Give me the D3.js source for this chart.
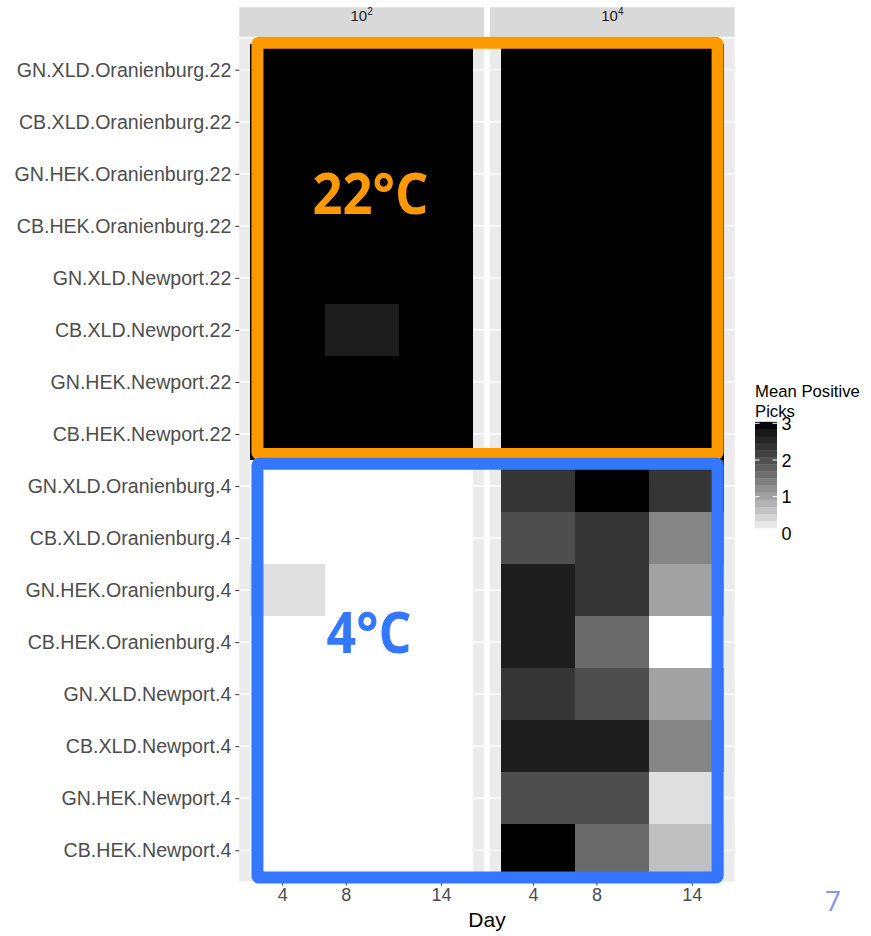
<!DOCTYPE html>
<html>
<head>
<meta charset="utf-8">
<script src="https://cdn.jsdelivr.net/npm/d3@7"></script>
<style>
  body { margin: 0; background: #fff; }
</style>
</head>
<body>
<script>
var rows = ["GN.XLD.Oranienburg.22", "CB.XLD.Oranienburg.22", "GN.HEK.Oranienburg.22", "CB.HEK.Oranienburg.22",
            "GN.XLD.Newport.22", "CB.XLD.Newport.22", "GN.HEK.Newport.22", "CB.HEK.Newport.22",
            "GN.XLD.Oranienburg.4", "CB.XLD.Oranienburg.4", "GN.HEK.Oranienburg.4", "CB.HEK.Oranienburg.4",
            "GN.XLD.Newport.4", "CB.XLD.Newport.4", "GN.HEK.Newport.4", "CB.HEK.Newport.4"];
var days = [4, 8, 14];
var facets = [{base: "10", exp: "2"}, {base: "10", exp: "4"}];

// mean positive picks, one row per label, one column per day
var picks102 = [[3, 3, 3], [3, 3, 3], [3, 3, 3], [3, 3, 3],
                [3, 3, 3], [3, 2.67, 3], [3, 3, 3], [3, 3, 3],
                [0, 0, 0], [0, 0, 0], [0.33, 0, 0], [0, 0, 0],
                [0, 0, 0], [0, 0, 0], [0, 0, 0], [0, 0, 0]];
var picks104 = [[3, 3, 3], [3, 3, 3], [3, 3, 3], [3, 3, 3],
                [3, 3, 3], [3, 3, 3], [3, 3, 3], [3, 3, 3],
                [2.33, 3, 2.33], [2, 2.33, 1.33], [2.67, 2.33, 1], [2.67, 1.67, 0],
                [2.33, 2, 1], [2.67, 2.67, 1.33], [2, 2, 0.33], [3, 1.67, 0.67]];
var legendBreaks = [0, 1, 2, 3];

var width = 871, height = 936;
var panelTop = 38.5, panelBottom = 881.5, panelW = 244.7;
var panelX = [239.3, 490];

var svg = d3.select("body").append("svg")
    .attr("width", width)
    .attr("height", height)
    .style("font-family", "'Liberation Sans', Arial, sans-serif");

// raster geometry like geom_raster: resolution 4, columns spread over the extent
var res = 4;
var xmin = d3.min(days) - res / 2,
    xmax = d3.max(days) + res / 2;
var ncol = Math.floor((d3.max(days) - d3.min(days)) / res) + 1;
var cellW = (xmax - xmin) / ncol;
var pad = (xmax - xmin) * 0.05;

var x = d3.scaleLinear().domain([xmin - pad, xmax + pad]).range([0, panelW]);
var y = d3.scalePoint().domain(rows).range([panelTop, panelBottom]).padding(0.6);
var step = y.step();
var fill = d3.scaleLinear().domain([0, 3]).range(["white", "black"]).interpolate(d3.interpolateLab);

var panels = [picks102, picks104];

panels.forEach(function(vals, p) {
  var g = svg.append("g").attr("transform", "translate(" + panelX[p] + ",0)");

  // strip
  g.append("rect")
    .attr("x", 0).attr("y", 7.3)
    .attr("width", panelW).attr("height", 29.4)
    .attr("fill", "#d9d9d9");
  var st = g.append("text")
    .attr("x", panelW / 2).attr("y", 21)
    .attr("text-anchor", "middle")
    .attr("font-size", 15)
    .attr("fill", "#1a1a1a");
  st.append("tspan").text(facets[p].base);
  st.append("tspan").attr("font-size", 10).attr("dy", -6.5).text(facets[p].exp);

  // panel background + grid
  g.append("rect")
    .attr("x", 0).attr("y", panelTop)
    .attr("width", panelW).attr("height", panelBottom - panelTop)
    .attr("fill", "#ebebeb");
  g.selectAll(".hgrid").data(rows).enter().append("line")
    .attr("x1", 0).attr("x2", panelW)
    .attr("y1", function(d) { return y(d); })
    .attr("y2", function(d) { return y(d); })
    .attr("stroke", "#fff").attr("stroke-width", 1.3);

  // tiles
  var cells = [];
  vals.forEach(function(r, i) {
    r.forEach(function(v, j) {
      var col = Math.floor((days[j] - d3.min(days)) / res);
      cells.push({row: rows[i], x0: xmin + col * cellW, value: v});
    });
  });
  g.selectAll(".tile").data(cells).enter().append("rect")
    .attr("x", function(d) { return x(d.x0); })
    .attr("width", function(d) { return x(d.x0 + cellW) - x(d.x0); })
    .attr("y", function(d) { return y(d.row) - step / 2; })
    .attr("height", step)
    .attr("fill", function(d) { return fill(d.value); })
    .attr("shape-rendering", "crispEdges");

  // x axis
  var ax = g.append("g")
    .attr("transform", "translate(0," + panelBottom + ")")
    .call(d3.axisBottom(x).tickValues(days).tickSize(4).tickPadding(3));
  ax.select(".domain").remove();
  ax.selectAll("line").attr("stroke", "#333");
  ax.selectAll("text").attr("font-size", 18).attr("fill", "#4d4d4d")
    .attr("font-family", "'Liberation Sans', Arial, sans-serif");
});

// y axis
var ay = svg.append("g")
  .attr("transform", "translate(" + panelX[0] + ",0)")
  .call(d3.axisLeft(y).tickSize(4).tickPadding(4));
ay.select(".domain").remove();
ay.selectAll("line").attr("stroke", "#333");
ay.selectAll("text").attr("font-size", 19.6).attr("fill", "#4d4d4d")
  .attr("font-family", "'Liberation Sans', Arial, sans-serif");

// x title
svg.append("text")
  .attr("x", (panelX[0] + panelX[1] + panelW) / 2)
  .attr("y", 927)
  .attr("text-anchor", "middle")
  .attr("font-size", 21)
  .text("Day");

// legend
var ly = d3.scaleLinear().domain([0, 3]).range([533.4, 423.3]);
var lg = svg.append("g");
lg.append("text").attr("x", 755).attr("y", 397).attr("font-size", 16.7).text("Mean Positive");
lg.append("text").attr("x", 755).attr("y", 416.5).attr("font-size", 16.7).text("Picks");
var nbin = 15, lo = 0.15, hi = 3.04;
var bins = d3.range(nbin).map(function(i) { return lo + (hi - lo) * i / nbin; });
var bw = (hi - lo) / nbin;
lg.selectAll(".bin").data(bins).enter().append("rect")
  .attr("x", 755).attr("width", 22)
  .attr("y", function(d) { return ly(d + bw); })
  .attr("height", function(d) { return ly(d) - ly(d + bw) + 0.3; })
  .attr("fill", function(d) { return fill(Math.min(3, d + bw / 2)); });
legendBreaks.filter(function(d) { return d >= lo; }).forEach(function(d) {
  lg.append("line").attr("x1", 755).attr("x2", 759.5).attr("y1", ly(d)).attr("y2", ly(d))
    .attr("stroke", "#fff").attr("stroke-width", 1);
  lg.append("line").attr("x1", 772.5).attr("x2", 777).attr("y1", ly(d)).attr("y2", ly(d))
    .attr("stroke", "#fff").attr("stroke-width", 1);
});
lg.selectAll(".lab").data(legendBreaks).enter().append("text")
  .attr("x", 781.5)
  .attr("y", function(d) { return ly(d); })
  .attr("dy", "0.37em")
  .attr("font-size", 18)
  .text(function(d) { return d; });

// annotation boxes
var sw = 12;
var boxL = panelX[0] + x(xmin) + 1,
    boxR = panelX[1] + x(xmax);
var split = (y(rows[7]) + y(rows[8])) / 2;
function box(top, bottom, color) {
  svg.append("rect")
    .attr("x", boxL + sw / 2).attr("y", top + sw / 2)
    .attr("width", boxR - boxL - sw).attr("height", bottom - top - sw)
    .attr("rx", 1.5)
    .attr("fill", "none")
    .attr("stroke", color)
    .attr("stroke-width", sw)
    .attr("stroke-linejoin", "round");
}
box(panelTop - 1.8, split, "#ff9900");
box(split - 2.3, panelBottom + 2, "#3377ff");

svg.append("text")
  .attr("x", 370.5).attr("y", 214)
  .attr("text-anchor", "middle")
  .attr("font-family", "'Open Sans', sans-serif")
  .attr("font-weight", 700)
  .attr("font-size", 57)
  .attr("textLength", 116)
  .attr("lengthAdjust", "spacingAndGlyphs")
  .attr("fill", "#ff9900")
  .text("22°C");

svg.append("text")
  .attr("x", 369).attr("y", 653)
  .attr("text-anchor", "middle")
  .attr("font-family", "'Open Sans', sans-serif")
  .attr("font-weight", 700)
  .attr("font-size", 57)
  .attr("textLength", 85)
  .attr("lengthAdjust", "spacingAndGlyphs")
  .attr("fill", "#3377ff")
  .text("4°C");

svg.append("text")
  .attr("x", 833).attr("y", 911)
  .attr("text-anchor", "middle")
  .attr("font-family", "'Open Sans', sans-serif")
  .attr("font-size", 28)
  .attr("fill", "#8497ee")
  .text("7");
</script>
</body>
</html>
